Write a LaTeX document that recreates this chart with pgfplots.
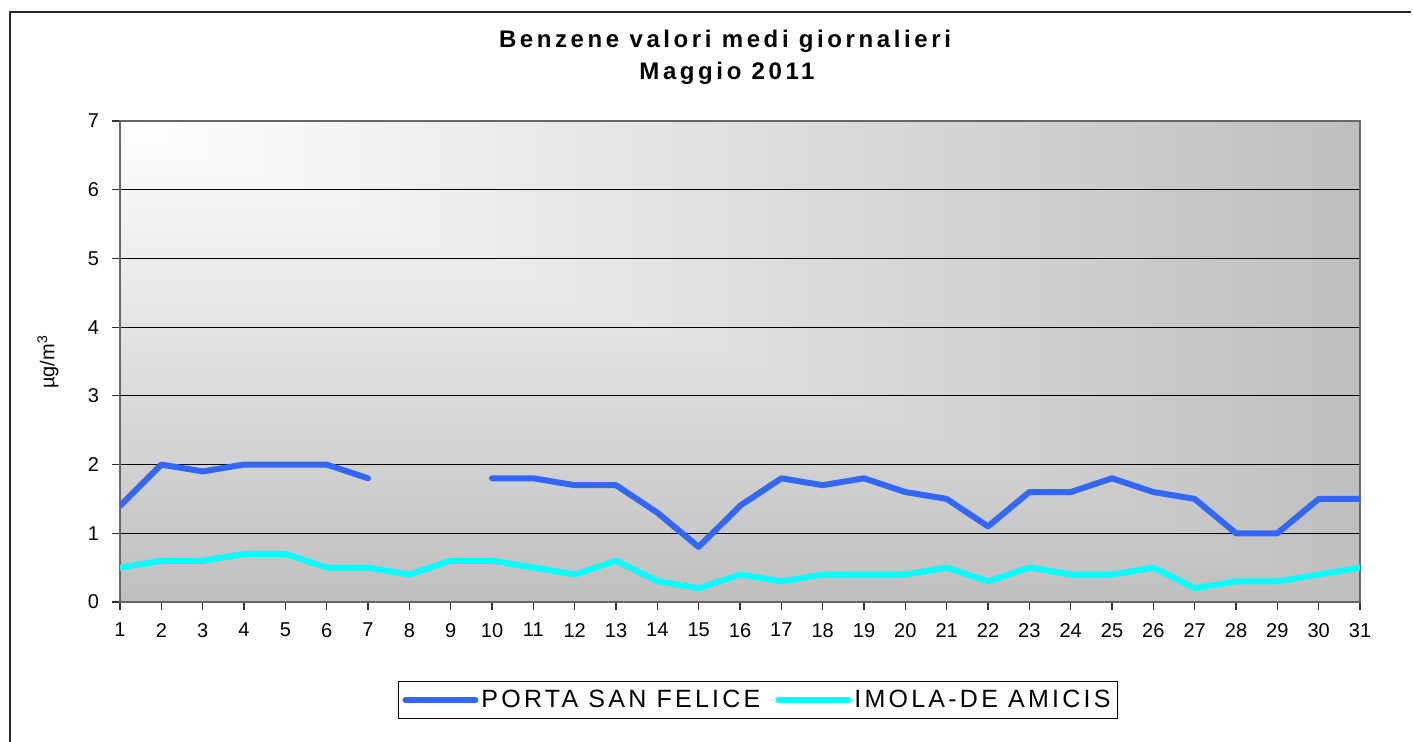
\documentclass[border=0pt]{standalone}
\usepackage{fontspec}
\setmainfont{Liberation Sans}
\usepackage{pgfplots}
\pgfplotsset{compat=1.18}
\definecolor{psf}{HTML}{3366FF}
\definecolor{imola}{HTML}{00FFFF}
\definecolor{bggray}{HTML}{BFBFBF}
\begin{document}
\begin{tikzpicture}
\useasboundingbox (0,0) rectangle (706.5pt,371pt);
% outer frame (top and left edges visible)
\draw[line width=1pt, black!85] (5pt,0pt) -- (5pt,365pt) -- (705.5pt,365pt);
% plot-area background: gradient from the top-left corner
\shade[top color=white, bottom color=bggray] (60pt,70pt) rectangle (680pt,310.5pt);
\begin{scope}
\clip (60pt,310.5pt) -- (680pt,310.5pt) -- (680pt,70pt) -- cycle;
\shade[left color=white, right color=bggray] (60pt,70pt) rectangle (680pt,310.5pt);
\end{scope}
% title
\node[font=\bfseries\fontsize{12}{14}\selectfont\addfontfeature{LetterSpace=15}] at (362.5pt,350.5pt) {Benzene valori medi giornalieri};
\node[font=\bfseries\fontsize{12}{14}\selectfont\addfontfeature{LetterSpace=15}] at (363.5pt,334.5pt) {Maggio 2011};
% y label
\node[rotate=90, font=\fontsize{10}{12}\selectfont] at (24pt,190pt) {µg/m\textsuperscript{3}};
\begin{axis}[
  at={(60pt,70pt)}, anchor=south west,
  scale only axis, width=620pt, height=240.5pt,
  xmin=1, xmax=31, ymin=0, ymax=7,
  xtick={1,...,31}, ytick={0,...,7},
  ymajorgrids, grid style={black, line width=0.5pt},
  axis line style={black!60, line width=1pt},
  tick align=outside, tick pos=left,
  major tick length=4pt,
  tick style={black!80, line width=0.6pt},
  /pgf/number format/assume math mode=true,
  ticklabel style={font=\fontsize{10}{12}\selectfont},
  xticklabel style={yshift=-3pt},
  yticklabel style={xshift=-3pt},
  unbounded coords=jump,
  legend columns=2,
  legend style={at={(axis description cs:0.5145,-0.2037)}, anchor=center,
    draw=black, line width=0.6pt, fill=white,
    font=\fontsize{12.5}{14}\selectfont\addfontfeature{LetterSpace=13},
    inner xsep=2pt, inner ysep=2pt,
    nodes={inner xsep=1.5pt},
    /tikz/every even column/.append style={column sep=6pt}},
  legend image code/.code={\draw[#1, line width=3pt, line cap=round] (0pt,0pt) -- (35pt,0pt);},
]
\addplot[psf, line width=3pt, line cap=round, line join=round] coordinates {
(1,1.4) (2,2.0) (3,1.9) (4,2.0) (5,2.0) (6,2.0) (7,1.8) (8,nan) (9,nan)
(10,1.8) (11,1.8) (12,1.7) (13,1.7) (14,1.3) (15,0.8) (16,1.4) (17,1.8)
(18,1.7) (19,1.8) (20,1.6) (21,1.5) (22,1.1) (23,1.6) (24,1.6) (25,1.8)
(26,1.6) (27,1.5) (28,1.0) (29,1.0) (30,1.5) (31,1.5)};
\addlegendentry{PORTA SAN FELICE}
\addplot[imola, line width=3pt, line cap=round, line join=round] coordinates {
(1,0.5) (2,0.6) (3,0.6) (4,0.7) (5,0.7) (6,0.5) (7,0.5) (8,0.4) (9,0.6)
(10,0.6) (11,0.5) (12,0.4) (13,0.6) (14,0.3) (15,0.2) (16,0.4) (17,0.3)
(18,0.4) (19,0.4) (20,0.4) (21,0.5) (22,0.3) (23,0.5) (24,0.4) (25,0.4)
(26,0.5) (27,0.2) (28,0.3) (29,0.3) (30,0.4) (31,0.5)};
\addlegendentry{IMOLA-DE AMICIS}
\end{axis}
\end{tikzpicture}
\end{document}
